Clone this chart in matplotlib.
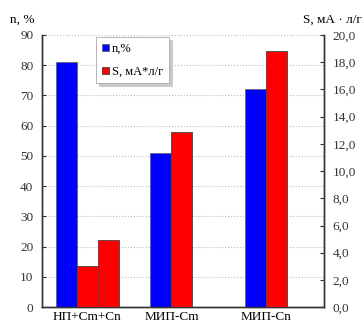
import matplotlib.pyplot as plt
import numpy as np

# -----------------------------
# Data
# -----------------------------
categories = ["НП+Cm+Cn", "МИП-Cm", "МИП-Cn"]
n_values = [81, 51, 72]
s_values = [[3.0, 4.9], [12.9], [18.8]]

n_ticks = [0, 10, 20, 30, 40, 50, 60, 70, 80, 90]
s_ticks = [0, 2, 4, 6, 8, 10, 12, 14, 16, 18, 20]

# -----------------------------
# Layout (bar width = 1 unit)
# -----------------------------
blue_left = [0.68, 5.19, 9.71]
width = 1.0

plt.rcParams['font.family'] = ['Liberation Serif', 'DejaVu Serif']
plt.rcParams['font.size'] = 9.5

fig = plt.figure(figsize=(3.63, 3.24), dpi=100)
ax = fig.add_axes([0.115, 0.052, 0.778, 0.84])
ax2 = ax.twinx()

# blue bars (left axis)
blue_handle = ax.bar(
    blue_left,
    n_values,
    width=width,
    align='edge',
    color='#0000ff',
    edgecolor='#666666',
    linewidth=0.6,
    zorder=3
)

# red bars (right axis)
red_handle = None
centers = []
for left, vals in zip(blue_left, s_values):
    lefts = [left + width * (i + 1) for i in range(len(vals))]
    red_handle = ax2.bar(
        lefts,
        vals,
        width=width,
        align='edge',
        color='#ff0000',
        edgecolor='#444444',
        linewidth=0.6,
        zorder=3
    )
    centers.append((left + lefts[-1] + width) / 2)

ax.set_xlim(0, 13.48)
ax.set_ylim(0, 90)
ax2.set_ylim(0, 20)

ax.set_yticks(n_ticks)
ax2.set_yticks(s_ticks)
ax2.set_yticklabels([("%.1f" % v).replace('.', ',') for v in s_ticks])

ax.set_xticks(centers)
ax.set_xticklabels(categories)
ax.tick_params(axis='x', length=0, pad=3)

ax.tick_params(axis='y', direction='in', length=3, width=0.8, pad=6, colors='#333333')
ax2.tick_params(axis='y', direction='in', length=3, width=0.8, pad=6, colors='#333333')

# grid
for y in n_ticks[1:]:
    ax.axhline(y, color='#bbbbbb', linestyle=':', linewidth=0.8, zorder=1)

for a in (ax, ax2):
    a.spines['top'].set_visible(False)
    for s in ('left', 'right', 'bottom'):
        a.spines[s].set_color('#333333')
        a.spines[s].set_linewidth(1.0)

# axis titles
fig.text(0.028, 0.94, "n, %", ha='left', va='center', fontsize=9.5)
fig.text(0.997, 0.94, "S, мА · л/г", ha='right', va='center', fontsize=9.5)

# legend
leg = ax2.legend(
    [blue_handle, red_handle],
    ["n,%", "S, мА*л/г"],
    loc='upper left',
    bbox_to_anchor=(0.185, 1.0),
    fontsize=9,
    handlelength=0.55,
    handleheight=0.55,
    handletextpad=0.25,
    labelspacing=0.85,
    borderpad=0.45,
    borderaxespad=0.2,
    fancybox=False,
    shadow={'color': '#c8c8c8', 'alpha': 1.0},
    framealpha=1,
    edgecolor='#aaaaaa'
)
leg.get_frame().set_linewidth(0.6)

plt.savefig("out.png", dpi=100)
